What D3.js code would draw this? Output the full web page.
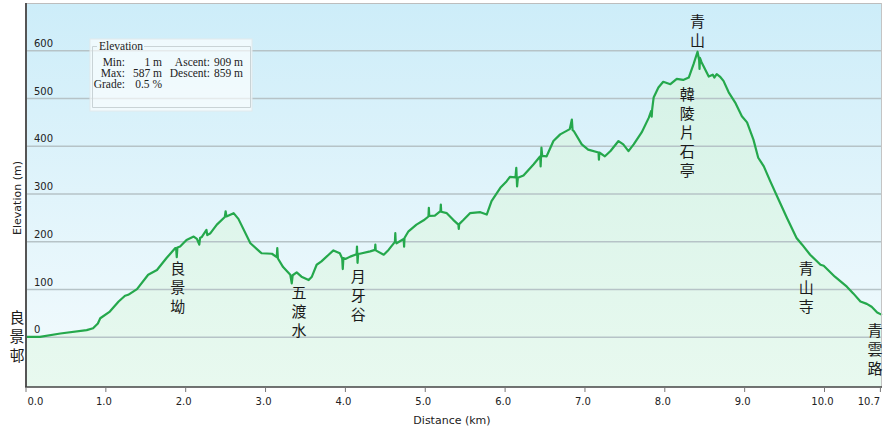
<!DOCTYPE html>
<html>
<head>
<meta charset="utf-8">
<script src="https://cdn.jsdelivr.net/npm/d3@7"></script>
<style>
  html, body { margin: 0; padding: 0; background: #fff; }
  svg { display: block; }
</style>
</head>
<body>
<div id="chart"></div>
<script>
// profile samples (km, m)
const distKm = [
  0.00, 0.175, 0.43, 0.76, 0.84, 0.90, 0.93, 1.05, 1.16, 1.24, 1.28, 1.39, 1.53, 1.64, 1.76,
  1.87, 1.88, 1.888, 1.896, 1.93, 2.01, 2.10, 2.14, 2.17, 2.18, 2.20, 2.26, 2.27, 2.31, 2.39,
  2.49, 2.50, 2.51, 2.60, 2.66, 2.81, 2.93, 2.95, 3.08, 3.14, 3.147, 3.155, 3.22, 3.31, 3.328,
  3.34, 3.39, 3.45, 3.54, 3.58, 3.64, 3.70, 3.79, 3.85, 3.93, 3.96, 3.967, 3.975, 4.00, 4.06,
  4.14, 4.145, 4.152, 4.16, 4.18, 4.31, 4.37, 4.375, 4.38, 4.48, 4.54, 4.62, 4.625, 4.63, 4.64,
  4.73, 4.735, 4.74, 4.79, 4.89, 4.98, 5.04, 5.045, 5.05, 5.12, 5.19, 5.195, 5.20, 5.27, 5.35,
  5.415, 5.42, 5.425, 5.48, 5.56, 5.69, 5.77, 5.83, 5.94, 6.02, 6.06, 6.13, 6.14, 6.15, 6.16,
  6.23, 6.355, 6.44, 6.445, 6.455, 6.465, 6.52, 6.605, 6.69, 6.81, 6.836, 6.845, 6.86, 6.96, 7.04,
  7.17, 7.175, 7.18, 7.25, 7.32, 7.42, 7.48, 7.545, 7.61, 7.71, 7.80, 7.83, 7.836, 7.842, 7.86,
  7.92, 7.98, 8.07, 8.15, 8.23, 8.30, 8.36, 8.41, 8.43, 8.435, 8.44, 8.46, 8.55, 8.60, 8.62,
  8.65, 8.69, 8.735, 8.80, 8.88, 8.965, 9.03, 9.11, 9.17, 9.24, 9.32, 9.42, 9.53, 9.65, 9.72,
  9.82, 9.95, 9.99, 10.13, 10.28, 10.36, 10.45, 10.53, 10.59, 10.66, 10.72
];
const elevM = [
  1, 1, 8, 15, 19, 29, 40, 54, 75, 87, 89, 101, 131, 141, 166,
  187, 186, 168, 188, 190, 204, 211, 206, 194, 208, 210, 225, 214, 218, 236,
  252, 264, 253, 260, 248, 197, 179, 176, 175, 168, 187, 165, 147, 131, 113,
  130, 136, 127, 120, 127, 152, 159, 173, 182, 176, 165, 143, 166, 164, 169,
  174, 190, 156, 175, 175, 180, 183, 194, 182, 173, 183, 200, 218, 200, 197,
  206, 190, 208, 222, 236, 245, 253, 271, 254, 255, 264, 278, 263, 260, 246,
  236, 227, 237, 246, 260, 262, 257, 285, 313, 327, 336, 335, 355, 316, 334,
  339, 362, 379, 358, 397, 380, 379, 411, 425, 436, 456, 434, 432, 404, 393,
  387, 372, 387, 379, 390, 411, 404, 390, 404, 429, 460, 474, 462, 478, 502,
  523, 535, 530, 541, 539, 544, 572, 598, 580, 562, 585, 576, 546, 550, 544,
  551, 546, 537, 513, 492, 463, 450, 414, 376, 358, 327, 290, 250, 208, 194,
  173, 152, 150, 127, 106, 92, 75, 70, 64, 52, 47
];

const yTicks = [0, 100, 200, 300, 400, 500, 600];
const xTicks = [0, 1, 2, 3, 4, 5, 6, 7, 8, 9, 10, 10.7];

const placeNames = ["良景邨", "良景坳", "五渡水", "月牙谷", "青山", "韓陵片石亭", "青山寺", "青雲路"];
const placeKm    = [0, 1.90, 3.42, 4.16, 8.41, 8.28, 9.77, 10.72];

const statLabels = [["Min:", "1 m", "Ascent:", "909 m"], ["Max:", "587 m", "Descent:", "859 m"], ["Grade:", "0.5 %", "", ""]];

const width = 888, height = 433;
const plot = {left: 26, right: 882, top: 3, bottom: 387};

const svg = d3.select("#chart").append("svg")
  .attr("width", width)
  .attr("height", height);

const x = d3.scaleLinear().domain([0, 10.72]).range([plot.left, plot.right]);
const y = d3.scaleLinear().domain([-104, 700]).range([plot.bottom, plot.top]);

const defs = svg.append("defs");
const bg = defs.append("linearGradient").attr("id", "bg").attr("x1", 0).attr("y1", 0).attr("x2", 0).attr("y2", 1);
bg.append("stop").attr("offset", "0%").attr("stop-color", "#cdedf9");
bg.append("stop").attr("offset", "100%").attr("stop-color", "#f4fbfd");
const fillG = defs.append("linearGradient").attr("id", "fillG").attr("x1", 0).attr("x2", 0)
  .attr("gradientUnits", "userSpaceOnUse").attr("y1", plot.top).attr("y2", plot.bottom);
fillG.append("stop").attr("offset", "0%").attr("stop-color", "#d2f1e6");
fillG.append("stop").attr("offset", "100%").attr("stop-color", "#e8f9ef");

svg.append("rect")
  .attr("x", plot.left).attr("y", plot.top)
  .attr("width", plot.right - plot.left).attr("height", plot.bottom - plot.top)
  .attr("fill", "url(#bg)");

const pts = distKm.map((d, i) => [d, elevM[i]]);

const area = d3.area()
  .x(d => x(d[0]))
  .y0(plot.bottom)
  .y1(d => y(d[1]));

svg.append("path")
  .datum(pts)
  .attr("d", area)
  .attr("fill", "url(#fillG)");

// grid
svg.append("g")
  .selectAll("line")
  .data(yTicks)
  .join("line")
    .attr("x1", plot.left).attr("x2", plot.right)
    .attr("y1", d => y(d)).attr("y2", d => y(d))
    .attr("stroke", "#b6c3c7")
    .attr("stroke-width", 1.5);

svg.append("g")
    .attr("font-family", "DejaVu Sans, Verdana, sans-serif")
    .attr("font-size", 10)
    .attr("fill", "#222")
  .selectAll("text")
  .data(yTicks)
  .join("text")
    .attr("x", 34)
    .attr("y", d => y(d) - 4)
    .text(d => d);

const line = d3.line()
  .x(d => x(d[0]))
  .y(d => y(d[1]));

svg.append("path")
  .datum(pts)
  .attr("d", line)
  .attr("fill", "none")
  .attr("stroke", "#25a84c")
  .attr("stroke-width", 2.2)
  .attr("stroke-linejoin", "round");

// borders
svg.append("line").attr("x1", plot.left).attr("x2", plot.right).attr("y1", plot.top + 0.5).attr("y2", plot.top + 0.5)
  .attr("stroke", "#bdbdbd");
svg.append("line").attr("x1", plot.right - 0.5).attr("x2", plot.right - 0.5).attr("y1", plot.top).attr("y2", plot.bottom)
  .attr("stroke", "#c4c4c4");
svg.append("line").attr("x1", plot.left).attr("x2", plot.left).attr("y1", plot.top).attr("y2", plot.bottom)
  .attr("stroke", "#555").attr("stroke-width", 2);
svg.append("line").attr("x1", plot.left - 1).attr("x2", plot.right).attr("y1", plot.bottom).attr("y2", plot.bottom)
  .attr("stroke", "#444").attr("stroke-width", 1.6);

// x ticks + labels
const xt = svg.append("g");
xt.selectAll("line")
  .data(xTicks)
  .join("line")
    .attr("x1", d => Math.min(x(d), plot.right - 1)).attr("x2", d => Math.min(x(d), plot.right - 1))
    .attr("y1", plot.bottom).attr("y2", plot.bottom + 5)
    .attr("stroke", "#777");
xt.selectAll("text")
  .data(xTicks)
  .join("text")
    .attr("font-family", "DejaVu Sans, Verdana, sans-serif")
    .attr("font-size", 10)
    .attr("fill", "#222")
    .attr("x", (d, i) => i === 0 ? x(d) + 1.5 : i === xTicks.length - 1 ? plot.right - 2 : x(d) - 2)
    .attr("y", 405)
    .attr("text-anchor", (d, i) => i === 0 ? "start" : i === xTicks.length - 1 ? "end" : "middle")
    .text(d => d.toFixed(1));

svg.append("text")
  .attr("x", 452).attr("y", 424)
  .attr("text-anchor", "middle")
  .attr("font-family", "DejaVu Sans, Verdana, sans-serif")
  .attr("font-size", 11)
  .attr("fill", "#222")
  .text("Distance (km)");

svg.append("text")
  .attr("transform", "translate(21,198) rotate(-90)")
  .attr("text-anchor", "middle")
  .attr("font-family", "DejaVu Sans, Verdana, sans-serif")
  .attr("font-size", 11)
  .attr("fill", "#222")
  .text("Elevation (m)");

// place labels, stacked vertically
const elevAt = km => {
  const i = d3.bisector(d => d).left(distKm, km);
  if (i <= 0) return elevM[0];
  if (i >= distKm.length) return elevM[elevM.length - 1];
  const t = (km - distKm[i - 1]) / (distKm[i] - distKm[i - 1]);
  return elevM[i - 1] + t * (elevM[i] - elevM[i - 1]);
};
const labelOffset = [[-9, -19], [0, 22], [0, 18], [0, 23], [0, -30], [0, 17], [0, 19], [-7, 16]];
const step = 19;

const places = svg.append("g")
  .attr("font-family", "Noto Sans CJK TC, sans-serif")
  .attr("font-size", 15)
  .attr("fill", "#1a1a1a");

placeNames.forEach((name, i) => {
  const cx = x(placeKm[i]) + labelOffset[i][0];
  const cy = y(elevAt(placeKm[i])) + labelOffset[i][1];
  places.append("text")
    .attr("text-anchor", "middle")
    .selectAll("tspan")
    .data(Array.from(name))
    .join("tspan")
      .attr("x", cx)
      .attr("y", (c, j) => cy + j * step + 5)
      .text(c => c);
});

// stats box
const box = svg.append("g");
box.append("rect")
  .attr("x", 90).attr("y", 39).attr("width", 162).attr("height", 72)
  .attr("fill", "#ffffff").attr("fill-opacity", 0.65)
  .attr("stroke", "#e2eaec");
box.append("path")
  .attr("d", "M97,46.5 H92.5 V107.5 H250.5 V46.5 H144")
  .attr("fill", "none")
  .attr("stroke", "#c9d3d6");

const colRight = [125, 162, 210, 243];
const statText = box.append("text")
  .attr("font-family", "Liberation Serif, Times New Roman, serif")
  .attr("font-size", 11.5)
  .attr("fill", "#222");
statText.append("tspan")
  .attr("x", 99).attr("y", 50)
  .text("Elevation");
statLabels.forEach((row, r) => {
  row.forEach((cell, c) => {
    if (!cell) return;
    statText.append("tspan")
      .attr("x", colRight[c])
      .attr("y", 66 + r * 11)
      .attr("text-anchor", "end")
      .text(cell);
  });
});
</script>
</body>
</html>
